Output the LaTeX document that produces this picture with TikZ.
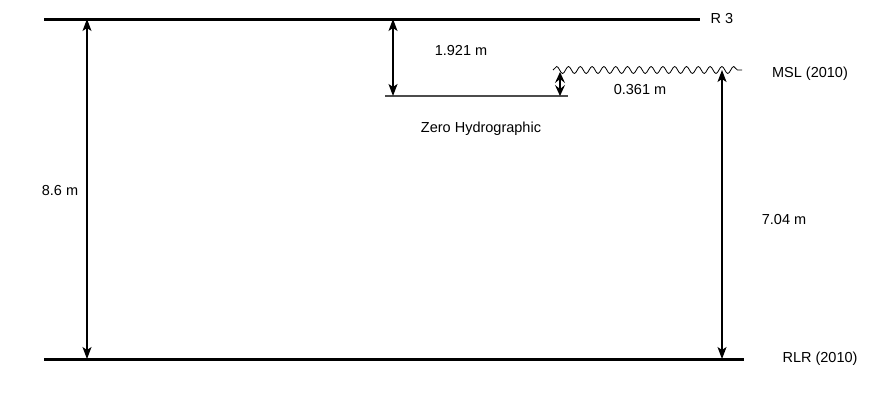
\documentclass[tikz,border=0pt]{standalone}
\usepackage{fontspec}
\setmainfont{Liberation Sans}
\usetikzlibrary{arrows.meta,decorations.pathmorphing}
\begin{document}
\begin{tikzpicture}[x=1pt,y=-1pt,
  level/.style={line width=3pt},
  dim/.style={line width=1.1pt,{Stealth[length=12pt,width=9pt,inset=3pt]}-{Stealth[length=12pt,width=9pt,inset=3pt]}},
  smalldim/.style={line width=1.1pt,{Stealth[length=11pt,width=10pt,inset=4pt]}-{Stealth[length=11pt,width=10pt,inset=4pt]}},
  lbl/.style={font=\fontsize{14.5}{17}\selectfont,inner sep=0pt}]
\useasboundingbox (0,0) rectangle (875,400);
% levels
\coordinate (r3a) at (44,19); \coordinate (r3b) at (700,19);
\coordinate (rlra) at (44,359); \coordinate (rlrb) at (744,359);
\coordinate (zha) at (385,96); \coordinate (zhb) at (568,96);
\coordinate (msla) at (553,70); \coordinate (mslb) at (742,70);
\draw[level] (r3a) -- (r3b);
\draw[level] (rlra) -- (rlrb);
\draw[line width=1.2pt,black!70] (zha) -- (zhb);
\draw[line width=0.8pt,decorate,decoration={snake,segment length=11.8pt,amplitude=3.5pt}] (msla) -- (mslb);
% dimension endpoints
\coordinate (d1t) at (87,19); \coordinate (d1b) at (87,359);
\coordinate (d2t) at (393,19); \coordinate (d2b) at (393,96);
\coordinate (d3t) at (560,72); \coordinate (d3b) at (560,96);
\coordinate (d4t) at (722,70); \coordinate (d4b) at (722,359);
\draw[dim] (d1t) -- (d1b);
\draw[dim] (d2t) -- (d2b);
\draw[smalldim] (d3t) -- (d3b);
\draw[dim] (d4t) -- (d4b);
% labels
\node[lbl] (l86) at (60,191) {8.6 m};
\node[lbl] (l1921) at (461,51) {1.921 m};
\node[lbl] (lzh) at (481,129) {Zero Hydrographic};
\node[lbl] (l0361) at (640,90) {0.361 m};
\node[lbl] (l704) at (784,220) {7.04 m};
\node[lbl] (lr3) at (722,19) {R 3};
\node[lbl] (lmsl) at (810,74) {MSL (2010)};
\node[lbl] (lrlr) at (820,359) {RLR (2010)};
\end{tikzpicture}
\end{document}
